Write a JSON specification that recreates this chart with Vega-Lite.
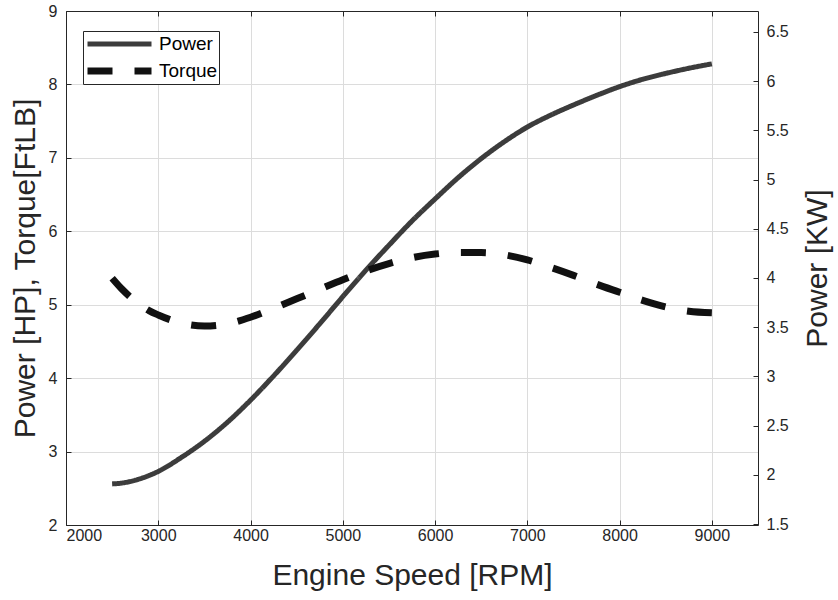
{
  "$schema": "https://vega.github.io/schema/vega-lite/v6.json",
  "autosize": {"type": "none"},
  "width": 692,
  "height": 514,
  "padding": {"left": 66, "top": 11, "right": 80, "bottom": 75},
  "background": "white",
  "config": {
    "font": "Liberation Sans",
    "view": {"stroke": null},
    "axis": {
      "labelFont": "Liberation Sans",
      "labelFontSize": 16,
      "labelColor": "#262626",
      "titleFont": "Liberation Sans",
      "titleFontSize": 30,
      "titleFontWeight": "normal",
      "titleColor": "#262626",
      "gridColor": "#dcdcdc",
      "gridWidth": 1,
      "domainColor": "#262626",
      "tickColor": "#262626",
      "tickSize": -5
    },
    "legend": {
      "labelFont": "Liberation Sans",
      "labelFontSize": 19,
      "labelColor": "#000000"
    }
  },
  "data": {
    "values": [
      {"rpm": 2500, "value": 2.56, "series": "Power"},
      {"rpm": 2600, "value": 2.57, "series": "Power"},
      {"rpm": 2750, "value": 2.61, "series": "Power"},
      {"rpm": 3000, "value": 2.73, "series": "Power"},
      {"rpm": 3250, "value": 2.92, "series": "Power"},
      {"rpm": 3500, "value": 3.14, "series": "Power"},
      {"rpm": 3750, "value": 3.40, "series": "Power"},
      {"rpm": 4000, "value": 3.70, "series": "Power"},
      {"rpm": 4250, "value": 4.03, "series": "Power"},
      {"rpm": 4500, "value": 4.38, "series": "Power"},
      {"rpm": 4750, "value": 4.74, "series": "Power"},
      {"rpm": 5000, "value": 5.11, "series": "Power"},
      {"rpm": 5250, "value": 5.47, "series": "Power"},
      {"rpm": 5500, "value": 5.81, "series": "Power"},
      {"rpm": 5750, "value": 6.14, "series": "Power"},
      {"rpm": 6000, "value": 6.44, "series": "Power"},
      {"rpm": 6250, "value": 6.73, "series": "Power"},
      {"rpm": 6500, "value": 6.99, "series": "Power"},
      {"rpm": 6750, "value": 7.22, "series": "Power"},
      {"rpm": 7000, "value": 7.42, "series": "Power"},
      {"rpm": 7250, "value": 7.58, "series": "Power"},
      {"rpm": 7500, "value": 7.72, "series": "Power"},
      {"rpm": 7750, "value": 7.85, "series": "Power"},
      {"rpm": 8000, "value": 7.97, "series": "Power"},
      {"rpm": 8250, "value": 8.07, "series": "Power"},
      {"rpm": 8500, "value": 8.15, "series": "Power"},
      {"rpm": 8750, "value": 8.22, "series": "Power"},
      {"rpm": 9000, "value": 8.28, "series": "Power"},
      {"rpm": 2500, "value": 5.36, "series": "Torque"},
      {"rpm": 2600, "value": 5.22, "series": "Torque"},
      {"rpm": 2750, "value": 5.05, "series": "Torque"},
      {"rpm": 2900, "value": 4.92, "series": "Torque"},
      {"rpm": 3000, "value": 4.86, "series": "Torque"},
      {"rpm": 3250, "value": 4.75, "series": "Torque"},
      {"rpm": 3500, "value": 4.71, "series": "Torque"},
      {"rpm": 3750, "value": 4.74, "series": "Torque"},
      {"rpm": 4000, "value": 4.83, "series": "Torque"},
      {"rpm": 4250, "value": 4.95, "series": "Torque"},
      {"rpm": 4500, "value": 5.08, "series": "Torque"},
      {"rpm": 4750, "value": 5.21, "series": "Torque"},
      {"rpm": 5000, "value": 5.34, "series": "Torque"},
      {"rpm": 5250, "value": 5.46, "series": "Torque"},
      {"rpm": 5500, "value": 5.56, "series": "Torque"},
      {"rpm": 5750, "value": 5.64, "series": "Torque"},
      {"rpm": 6000, "value": 5.69, "series": "Torque"},
      {"rpm": 6250, "value": 5.71, "series": "Torque"},
      {"rpm": 6500, "value": 5.71, "series": "Torque"},
      {"rpm": 6750, "value": 5.68, "series": "Torque"},
      {"rpm": 7000, "value": 5.61, "series": "Torque"},
      {"rpm": 7250, "value": 5.51, "series": "Torque"},
      {"rpm": 7500, "value": 5.40, "series": "Torque"},
      {"rpm": 7750, "value": 5.28, "series": "Torque"},
      {"rpm": 8000, "value": 5.17, "series": "Torque"},
      {"rpm": 8250, "value": 5.06, "series": "Torque"},
      {"rpm": 8500, "value": 4.97, "series": "Torque"},
      {"rpm": 8750, "value": 4.91, "series": "Torque"},
      {"rpm": 9000, "value": 4.89, "series": "Torque"}
    ]
  },
  "layer": [
    {
      "layer": [
        {
          "transform": [{"filter": "datum.series === 'Power'"}],
          "mark": {"type": "line", "strokeCap": "butt", "strokeWidth": 5, "interpolate": "monotone", "clip": true},
          "encoding": {
            "x": {"field": "rpm", "type": "quantitative"},
            "y": {"field": "value", "type": "quantitative"},
            "color": {"field": "series", "type": "nominal"},
            "strokeDash": {"field": "series", "type": "nominal"}
          }
        },
        {
          "transform": [{"filter": "datum.series === 'Torque'"}],
          "mark": {"type": "line", "strokeCap": "butt", "strokeWidth": 7, "interpolate": "monotone", "clip": true},
          "encoding": {
            "x": {"field": "rpm", "type": "quantitative"},
            "y": {"field": "value", "type": "quantitative"},
            "color": {"field": "series", "type": "nominal"},
            "strokeDash": {"field": "series", "type": "nominal"}
          }
        }
      ],
      "encoding": {
        "x": {
          "field": "rpm", "type": "quantitative",
          "scale": {"domain": [2000, 9500], "nice": false, "zero": false},
          "axis": {
            "title": "Engine Speed [RPM]",
            "values": [2000, 3000, 4000, 5000, 6000, 7000, 8000, 9000],
            "format": "d",
            "labelPadding": 7,
            "titlePadding": 17,
            "grid": true
          }
        },
        "y": {
          "field": "value", "type": "quantitative",
          "scale": {"domain": [2, 9], "nice": false, "zero": false},
          "axis": {
            "title": "Power [HP], Torque[FtLB]",
            "values": [2, 3, 4, 5, 6, 7, 8, 9],
            "labelPadding": 14,
            "titlePadding": 8,
            "grid": true
          }
        },
        "color": {
          "field": "series", "type": "nominal",
          "scale": {"domain": ["Power", "Torque"], "range": ["#3c3c3c", "#111111"]},
          "legend": {
            "title": null,
            "orient": "none",
            "legendX": 17,
            "legendY": 20,
            "strokeColor": "#262626",
            "fillColor": "white",
            "padding": 1,
            "clipHeight": 24,
            "symbolType": "stroke",
            "symbolSize": 4096,
            "symbolStrokeWidth": 5,
            "symbolOffset": 26,
            "labelOffset": 30,
            "rowPadding": 3,
            "labelExpr": "datum.label + '\u00a0\u00a0\u00a0'",
            "encode": {
              "symbols": {"update": {"strokeWidth": {"signal": "datum.value === 'Torque' ? 7 : 5"}}}
            }
          }
        },
        "strokeDash": {
          "field": "series", "type": "nominal",
          "scale": {"domain": ["Power", "Torque"], "range": [[1, 0], [25, 22]]}
        }
      }
    },
    {
      "mark": {"type": "line", "opacity": 0, "strokeWidth": 0, "clip": true},
      "encoding": {
        "x": {
          "field": "rpm", "type": "quantitative",
          "axis": {
            "orient": "top",
            "title": null,
            "labels": false,
            "grid": false,
            "values": [2000, 3000, 4000, 5000, 6000, 7000, 8000, 9000]
          }
        },
        "y": {
          "field": "value", "type": "quantitative",
          "scale": {"domain": [1.4914, 6.7113], "nice": false, "zero": false},
          "axis": {
            "orient": "right",
            "title": "Power [KW]",
            "titleAngle": 270,
            "values": [1.5, 2, 2.5, 3, 3.5, 4, 4.5, 5, 5.5, 6, 6.5],
            "format": "~g",
            "labelPadding": 13,
            "titlePadding": 44,
            "grid": false
          }
        }
      }
    }
  ],
  "resolve": {"scale": {"y": "independent"}, "axis": {"x": "independent", "y": "independent"}}
}
